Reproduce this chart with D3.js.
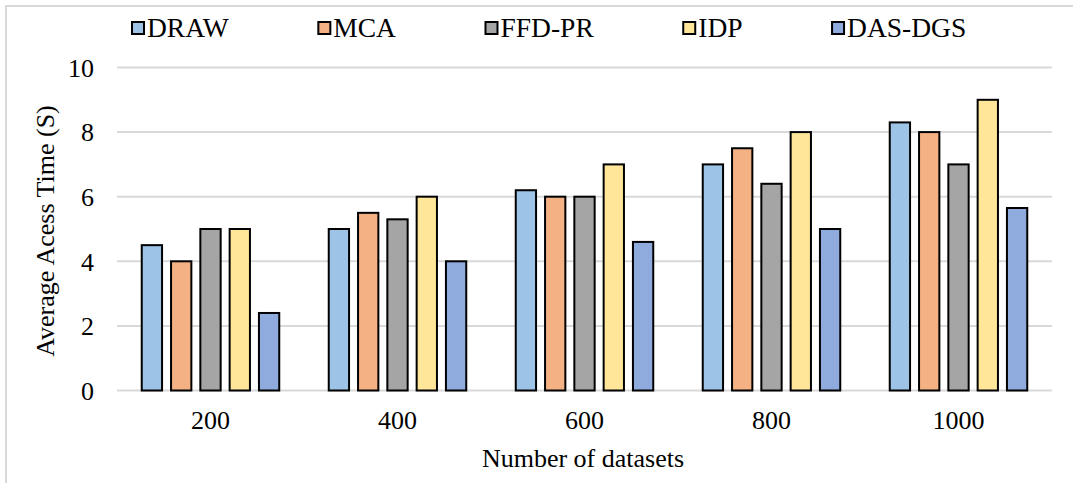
<!DOCTYPE html>
<html>
<head>
<meta charset="utf-8">
<script src="https://cdn.jsdelivr.net/npm/d3@7"></script>
<style>
  html, body { margin: 0; padding: 0; background: #fff; }
  svg { display: block; }
  text { font-family: "Liberation Serif", "Times New Roman", serif; fill: #000; }
</style>
</head>
<body>
<svg id="chart" width="1073" height="483"></svg>
<script>
// Dataset sizes on the x axis
const categories = ["200", "400", "600", "800", "1000"];
// Methods compared
const seriesNames = ["DRAW", "MCA", "FFD-PR", "IDP", "DAS-DGS"];
// Average access time (s) per method, one value per dataset size
const drawValues   = [4.5, 5.0, 6.2, 7.0, 8.3];
const mcaValues    = [4.0, 5.5, 6.0, 7.5, 8.0];
const ffdprValues  = [5.0, 5.3, 6.0, 6.4, 7.0];
const idpValues    = [5.0, 6.0, 7.0, 8.0, 9.0];
const dasdgsValues = [2.4, 4.0, 4.6, 5.0, 5.65];
const yTicks = [0, 2, 4, 6, 8, 10];

const seriesValues = [drawValues, mcaValues, ffdprValues, idpValues, dasdgsValues];
const colors = ["#9dc3e6", "#f4b183", "#a5a5a5", "#ffe699", "#8faadc"];

const svg = d3.select("#chart");

// Outer frame (left and top edges visible)
svg.append("line").attr("x1", 6).attr("x2", 6).attr("y1", 5).attr("y2", 483)
  .attr("stroke", "#d9d9d9").attr("stroke-width", 2);
svg.append("line").attr("x1", 5).attr("x2", 1073).attr("y1", 6).attr("y2", 6)
  .attr("stroke", "#d9d9d9").attr("stroke-width", 2);

const plotLeft = 117, plotRight = 1052;
const x0 = d3.scaleBand().domain(categories).range([plotLeft, plotRight]).padding(0);
const bw = x0.bandwidth();
const groupSpan = 146.5;
const x1 = d3.scaleBand().domain(seriesNames)
  .range([(bw - groupSpan) / 2, (bw + groupSpan) / 2])
  .paddingInner(0.307).paddingOuter(0.1535);
const y = d3.scaleLinear().domain([0, 10]).range([390.5, 67.5]);

// Horizontal gridlines
svg.append("g").selectAll("line").data(yTicks).join("line")
  .attr("x1", plotLeft).attr("x2", plotRight)
  .attr("y1", d => y(d)).attr("y2", d => y(d))
  .attr("stroke", "#d9d9d9").attr("stroke-width", 2);

// Y axis labels
const yAxis = d3.axisLeft(y).tickValues(yTicks).tickSize(0).tickPadding(0);
const gy = svg.append("g").attr("transform", "translate(94,0)").call(yAxis)
  .attr("font-family", null).attr("font-size", null);
gy.select(".domain").remove();
gy.selectAll("text").style("font-size", "26px").attr("fill", "#000").attr("dy", "0.34em");

// X axis labels
const xAxis = d3.axisBottom(x0).tickSize(0).tickPadding(0);
const gx = svg.append("g").attr("transform", "translate(0,411)").call(xAxis)
  .attr("font-family", null).attr("font-size", null);
gx.select(".domain").remove();
gx.selectAll("text").style("font-size", "26px").attr("fill", "#000").attr("dy", "0.71em");

// Bars
const groups = svg.append("g").selectAll("g").data(categories).join("g")
  .attr("transform", c => `translate(${x0(c)},0)`);
groups.selectAll("rect")
  .data((c, ci) => seriesNames.map((s, si) => ({ s, si, v: seriesValues[si][ci] })))
  .join("rect")
  .attr("x", d => x1(d.s))
  .attr("width", x1.bandwidth())
  .attr("y", d => y(d.v))
  .attr("height", d => y(0) - y(d.v))
  .attr("fill", d => colors[d.si])
  .attr("stroke", "#000")
  .attr("stroke-width", 2);

// Axis titles
svg.append("text")
  .attr("transform", "translate(54,231) rotate(-90)")
  .attr("text-anchor", "middle")
  .style("font-size", "26px")
  .text("Average Acess Time (S)");
svg.append("text")
  .attr("x", 583).attr("y", 467)
  .attr("text-anchor", "middle")
  .style("font-size", "26px")
  .text("Number of datasets");

// Legend
const legend = svg.append("g");
let lx = 131;
seriesNames.forEach((name, i) => {
  legend.append("rect")
    .attr("x", lx + 1).attr("y", 22).attr("width", 12).attr("height", 12)
    .attr("fill", colors[i]).attr("stroke", "#000").attr("stroke-width", 2);
  const t = legend.append("text")
    .attr("x", lx + 16).attr("y", 37)
    .style("font-size", "27.5px")
    .text(name);
  lx = lx + 16 + t.node().getComputedTextLength() + 88.5;
});
</script>
</body>
</html>
